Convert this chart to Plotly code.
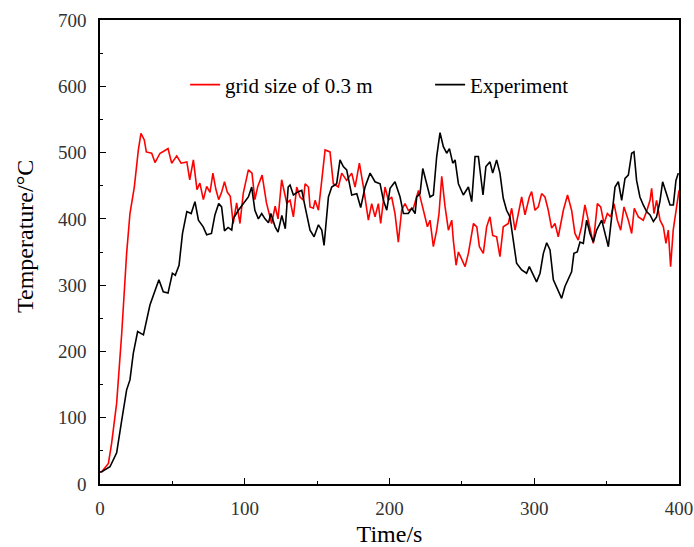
import plotly.graph_objects as go

# Simulation: grid size of 0.3 m
t_sim = [0, 1.2, 5.8, 8, 11.5, 15, 18.4, 20.7, 23.7, 26.5, 28.3, 30.6, 32, 35.7, 38, 41.5, 44, 47, 49.5, 53,
         56, 60, 62, 64.5, 67, 69, 71.4, 73.7, 76, 78, 80, 82, 84, 86, 88, 90, 92, 94.4, 96.7, 99,
         102.5, 105, 107, 109, 112, 115, 118.6, 121, 123, 125.5, 129, 131.3, 133.6, 135.9, 138.2, 140.5, 141.7, 144, 145.1, 147.4,
         148.6, 150.9, 153.2, 155.5, 158.9, 161.2, 164.7, 167, 170.4, 173.9, 176.2, 179.2, 182, 185.4, 187.7, 190, 192.3, 193.9, 196.9, 199.2,
         201.5, 203.8, 206.1, 208.4, 210.7, 213, 216.5, 220, 222.3, 224.6, 226.2, 228, 230.3, 232.6, 234.2, 236.1, 238.4, 240.7, 243, 244.1,
         246, 247.6, 250, 252.2, 254.5, 258, 260.3, 262.1, 264.8, 267.1, 269.4, 271.3, 274, 276.3, 278.6, 282.1, 284.4, 286.7, 289, 291.3,
         293.6, 296.6, 298.2, 300.5, 302.8, 305.1, 307.4, 309.7, 312, 314.3, 316.6, 320.1, 323, 325.8, 328.1, 330.4, 332.7, 335, 337.3, 340.8,
         343.6, 345.9, 348.2, 350.5, 352.8, 355.1, 357.4, 359.7, 362, 365, 367.3, 369.1, 371.9, 375.3, 377.6, 380, 381.1, 382.7, 384.5, 386.9,
         389.2, 391, 392.6, 394.2, 396, 398.4, 400]
temp_sim = [18, 18.5, 31, 61, 122, 227, 348, 408, 448, 504, 529, 519, 501, 499, 485, 499, 502, 506, 484, 495,
            484, 486, 459, 489, 444, 454, 429, 449, 440, 469, 445, 429, 440, 456, 440, 434, 393, 424, 393, 439,
            474, 469, 429, 449, 466, 424, 393, 419, 400, 459, 424, 428, 403, 448, 433, 428, 453, 448, 418, 416,
            428, 413, 458, 504, 501, 453, 448, 469, 458, 469, 448, 484, 448, 398, 423, 403, 423, 393, 448, 428,
            433, 408, 365, 413, 423, 413, 416, 443, 423, 403, 388, 398, 358, 383, 408, 464, 418, 383, 398, 368,
            330, 350, 338, 328, 348, 393, 388, 358, 348, 388, 403, 375, 373, 343, 388, 393, 416, 383, 408, 433,
            406, 433, 441, 413, 418, 438, 433, 413, 386, 393, 373, 413, 436, 413, 378, 368, 388, 421, 398, 363,
            423, 418, 393, 408, 403, 423, 398, 383, 418, 398, 378, 416, 403, 398, 411, 428, 446, 408, 428, 398,
            388, 363, 383, 328, 383, 423, 443]

# Experiment
t_exp = [0, 1.2, 6.9, 11.5, 15, 18.4, 20.7, 23, 26, 30, 34.5, 38, 40.7, 43.7, 47, 50, 52, 54.6, 57, 60,
         63, 65.6, 68, 71.3, 73.7, 77, 79.4, 82, 84, 86, 88.5, 91, 92, 95.6, 99, 102.5, 104.8, 107, 109.4, 111.7,
         114, 116.4, 118, 121, 123, 125.6, 128, 130, 131.3, 133.6, 137, 139.4, 141.7, 145.1, 147.9, 150.9, 153.2, 154.8, 157.8, 160.1,
         163.5, 165.8, 168.1, 170.4, 173.9, 177.4, 180.1, 183.1, 186.6, 190, 193.5, 195.8, 198.1, 200.4, 203.8, 207.3, 209.6, 213, 215.4, 217.7,
         218.8, 221.1, 223, 225.7, 228, 230.3, 232.6, 234.9, 237.2, 239.5, 241.4, 243.7, 245.3, 247.6, 251, 254.5, 256.8, 259.1, 261.4, 264.6,
         266.6, 269.4, 271.3, 274, 276.3, 278.6, 280.9, 283.2, 285.5, 287.8, 291.3, 294.7, 296.6, 299.3, 301.6, 304, 306.3, 308.6, 310.9, 313.2,
         315.9, 318.9, 321.2, 323.5, 325.8, 327.4, 329.7, 331.6, 333.9, 336.2, 338.5, 340.8, 343.1, 346.6, 348.9, 351.2, 353.5, 355.8, 358.1, 360.4,
         362.7, 365, 367.3, 368.9, 370.7, 373, 375.3, 377.6, 380, 382.3, 384.5, 386.8, 388.7, 391.5, 393.8, 396.1, 397.9, 399.5]
temp_exp = [18, 18.5, 26, 47, 96, 142, 157, 197, 230, 225, 270, 293, 308, 290, 288, 318, 315, 330, 378, 411,
            408, 426, 398, 388, 376, 378, 406, 423, 418, 382, 387, 383, 400, 413, 423, 433, 448, 413, 400, 408,
            400, 394, 408, 388, 380, 405, 385, 448, 451, 436, 441, 443, 418, 383, 373, 391, 383, 360, 433, 448,
            453, 489, 479, 474, 436, 438, 417, 448, 469, 456, 453, 428, 413, 446, 456, 433, 408, 408, 416, 408,
            433, 438, 476, 453, 433, 436, 494, 530, 509, 499, 506, 484, 489, 453, 436, 448, 426, 494, 494, 436,
            479, 486, 469, 489, 469, 431, 413, 403, 368, 333, 323, 318, 328, 315, 305, 318, 348, 364, 353, 308,
            295, 280, 298, 310, 320, 348, 350, 365, 363, 398, 378, 365, 383, 398, 378, 358, 403, 448, 456, 428,
            461, 466, 499, 501, 458, 433, 421, 411, 406, 396, 403, 426, 456, 438, 421, 421, 458, 469]

x_ticks = [0, 100, 200, 300, 400]
y_ticks = [0, 100, 200, 300, 400, 500, 600, 700]

FONT = "Liberation Serif"

fig = go.Figure()
fig.add_trace(go.Scatter(x=t_sim, y=temp_sim, mode="lines", name="grid size of 0.3 m",
                         line=dict(color="#ff0000", width=1.6)))
fig.add_trace(go.Scatter(x=t_exp, y=temp_exp, mode="lines", name="Experiment",
                         line=dict(color="#000000", width=1.6)))

axis_common = dict(
    showline=True, linecolor="black", linewidth=1.6, mirror=True,
    showgrid=False, zeroline=False, automargin=False,
    ticks="inside", ticklen=6, tickwidth=1.3, tickcolor="black",
    minor=dict(ticks="inside", ticklen=3.5, tickwidth=1.2, tickcolor="black", dtick=50),
    tickfont=dict(family=FONT, size=19, color="#333333"),
)

fig.update_xaxes(range=[0, 400], tickvals=x_ticks, ticklabelstandoff=6,
                 title=dict(text="Time/s", font=dict(family=FONT, size=24, color="black"), standoff=10),
                 **axis_common)
fig.update_yaxes(range=[0, 700], tickvals=y_ticks, ticklabelstandoff=8, **axis_common)

fig.add_annotation(text="Temperature/°C", textangle=-90, xref="paper", yref="paper",
                   x=-0.13, y=0.534, xanchor="center", yanchor="middle", showarrow=False,
                   font=dict(family=FONT, size=24, color="black"))

fig.update_layout(
    width=694, height=547,
    margin=dict(l=100, r=15, t=20, b=63),
    plot_bgcolor="white", paper_bgcolor="white",
    showlegend=True,
    legend=dict(orientation="h", x=0.147, y=0.86, xanchor="left", yanchor="middle",
                font=dict(family=FONT, size=21, color="black"), bgcolor="rgba(0,0,0,0)",
                entrywidth=200, entrywidthmode="pixels", tracegroupgap=0),
)

fig.write_html("out.html")
